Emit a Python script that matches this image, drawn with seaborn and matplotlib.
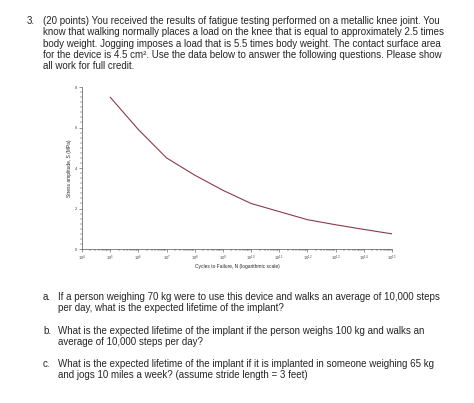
import matplotlib
matplotlib.use("Agg")
import matplotlib.pyplot as plt
import matplotlib.ticker as mticker
import seaborn as sns
import pandas as pd

cycles = [1e5, 1e6, 1e7, 1e8, 1e9, 1e10, 1e11, 1e12, 1e13, 1e14, 1e15]
stress = [7.5, 5.9, 4.5, 3.65, 2.9, 2.25, 1.85, 1.45, 1.2, 0.97, 0.75]

header = [
    "(20 points) You received the results of fatigue testing performed on a metallic knee joint. You",
    "know that walking normally places a load on the knee that is equal to approximately 2.5 times",
    "body weight. Jogging imposes a load that is 5.5 times body weight. The contact surface area",
    "for the device is 4.5 cm\u00b2. Use the data below to answer the following questions. Please show",
    "all work for full credit.",
]
questions = [
    ("a.", ["If a person weighing 70 kg were to use this device and walks an average of 10,000 steps",
            "per day, what is the expected lifetime of the implant?"]),
    ("b.", ["What is the expected lifetime of the implant if the person weighs 100 kg and walks an",
            "average of 10,000 steps per day?"]),
    ("c.", ["What is the expected lifetime of the implant if it is implanted in someone weighing 65 kg",
            "and jogs 10 miles a week? (assume stride length = 3 feet)"]),
]

sns.set_theme(style="ticks")
plt.rcParams['font.family'] = ['Liberation Sans', 'DejaVu Sans']

fig = plt.figure(figsize=(4.74, 4.03), dpi=100)
ax = fig.add_axes([0.173, 0.382, 0.654, 0.402])

df = pd.DataFrame({"N": cycles, "S": stress})
sns.lineplot(data=df, x="N", y="S", ax=ax, color="#8b3a4a", linewidth=0.8)
ax.set_xscale("log")
ax.set_xlim(1e4, 1e15)
ax.set_ylim(0, 8)
ax.set_yticks([0, 2, 4, 6, 8])
ax.yaxis.set_minor_locator(mticker.MultipleLocator(0.25))
ax.xaxis.set_major_locator(mticker.LogLocator(base=10, numticks=20))
ax.xaxis.set_minor_locator(mticker.LogLocator(base=10, subs=range(2, 10), numticks=200))
ax.xaxis.set_minor_formatter(mticker.NullFormatter())
ax.tick_params(labelsize=3, length=2, width=0.4, pad=1.5, colors="#444444")
ax.tick_params(which="minor", length=1.2, width=0.3)
ax.set_xlabel("Cycles to Failure, N (logarithmic scale)", fontsize=3.5, labelpad=0.5)
ax.set_ylabel("Stress amplitude, S (MPa)", fontsize=3.5, labelpad=2)
for s in ["top", "right"]:
    ax.spines[s].set_visible(False)
for s in ["left", "bottom"]:
    ax.spines[s].set_linewidth(0.5)
    ax.spines[s].set_color("#555555")

fs = 7
fig.text(27 / 474, 1 - 21 / 403, "3.", fontsize=fs, va="center", ha="left")
for i, line in enumerate(header):
    fig.text(43 / 474, 1 - (21 + i * 11.3) / 403, line, fontsize=fs, va="center", ha="left")

y0 = 297
for label, lines in questions:
    fig.text(43 / 474, 1 - y0 / 403, label, fontsize=fs, va="center")
    for j, line in enumerate(lines):
        fig.text(58 / 474, 1 - (y0 + j * 11.3) / 403, line, fontsize=fs, va="center")
    y0 += 33.5

fig.savefig("out.png", dpi=100, facecolor="white")
